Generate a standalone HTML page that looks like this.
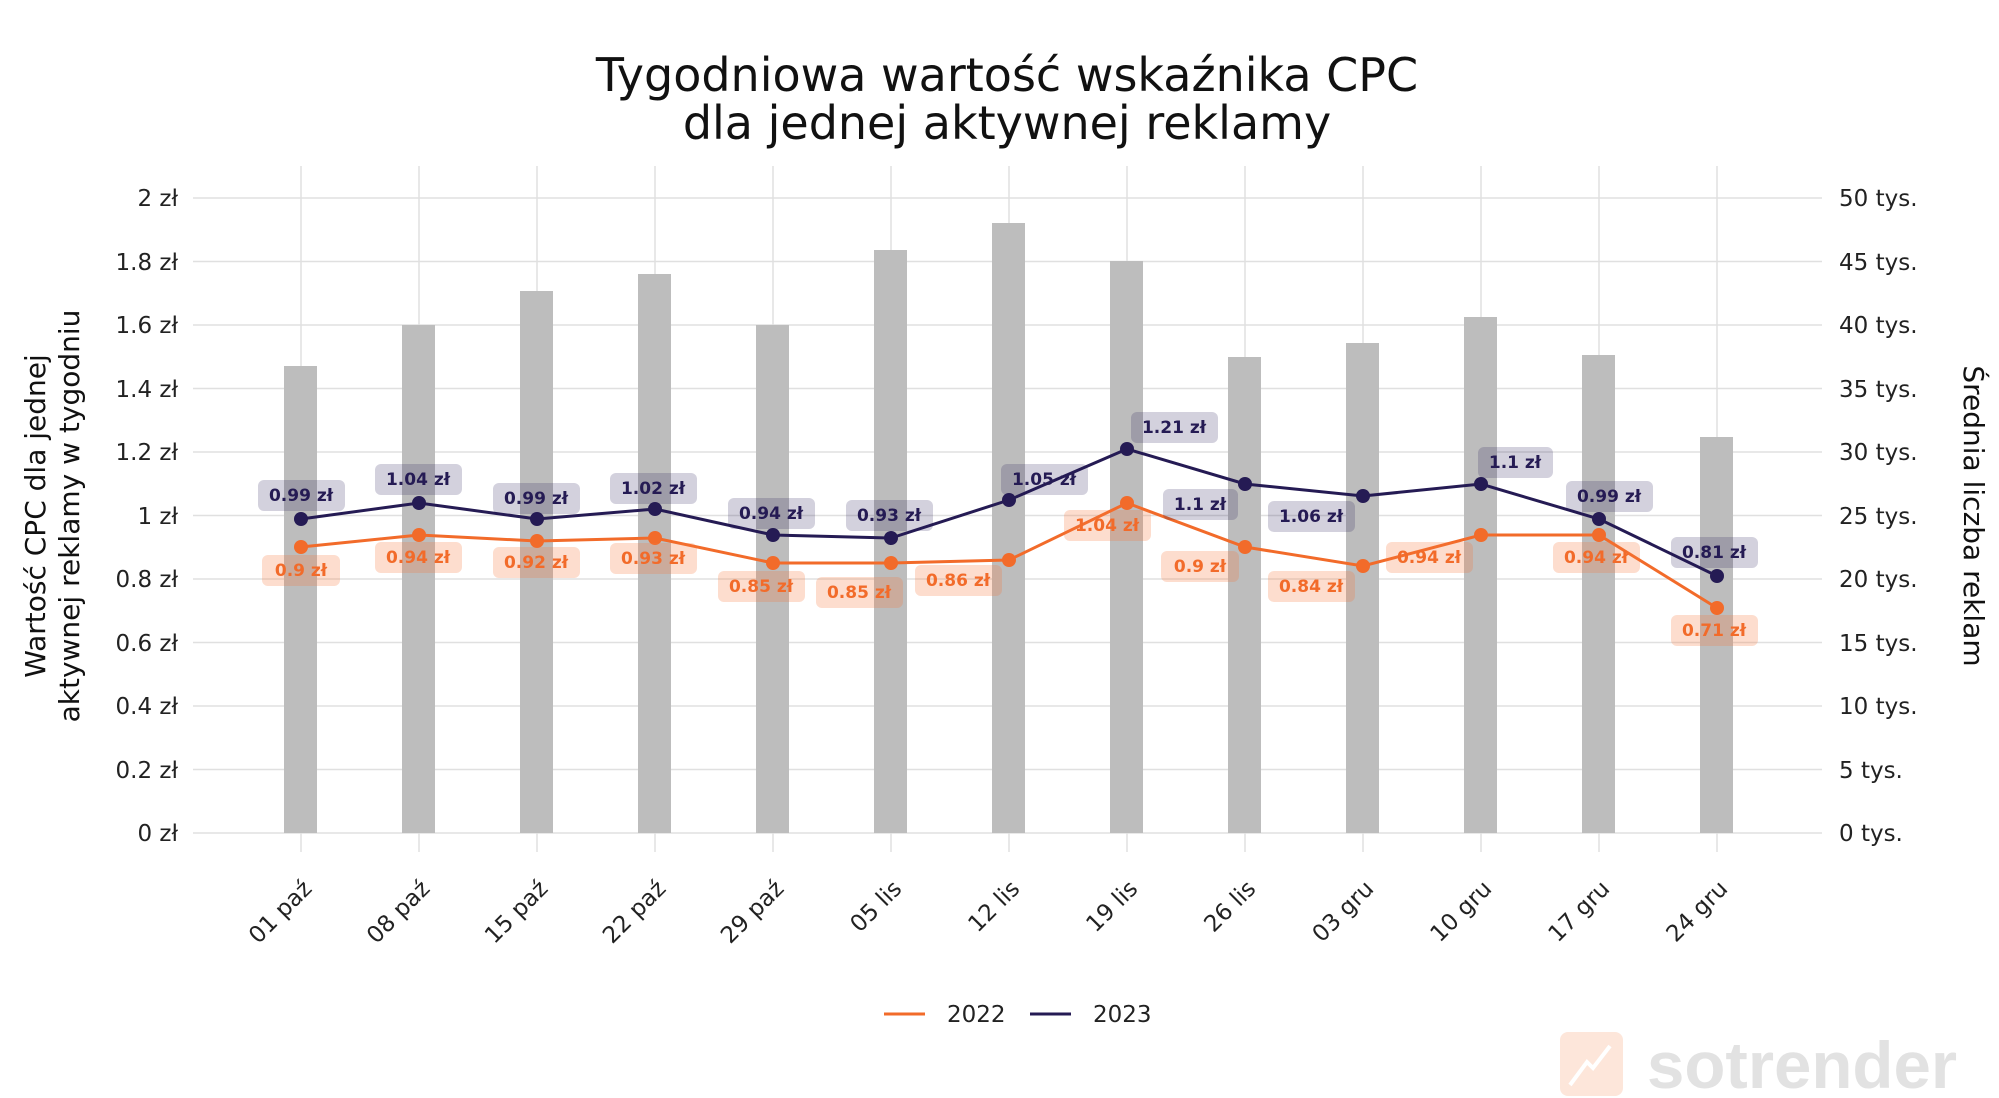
<!DOCTYPE html>
<html><head><meta charset="utf-8"><style>
html,body{margin:0;padding:0;background:#fff;}
svg{display:block;}
text{font-family:"DejaVu Sans","Liberation Sans",sans-serif;}
.tk{font-size:23px;fill:#222;}
.lb{font-size:17px;font-weight:bold;text-anchor:middle;}
</style></head><body>
<svg width="1999" height="1098" viewBox="0 0 1999 1098" xmlns="http://www.w3.org/2000/svg">
<text x="1007" y="91" font-size="46" text-anchor="middle" fill="#111">Tygodniowa wartość wskaźnika CPC</text>
<text x="1007" y="139" font-size="46" text-anchor="middle" fill="#111">dla jednej aktywnej reklamy</text>
<g stroke="#e0e0e0" stroke-width="1.5">
<line x1="193" x2="1822" y1="198" y2="198"/><line x1="193" x2="1822" y1="261.5" y2="261.5"/><line x1="193" x2="1822" y1="325" y2="325"/><line x1="193" x2="1822" y1="388.5" y2="388.5"/><line x1="193" x2="1822" y1="452" y2="452"/><line x1="193" x2="1822" y1="515.5" y2="515.5"/><line x1="193" x2="1822" y1="579" y2="579"/><line x1="193" x2="1822" y1="642.5" y2="642.5"/><line x1="193" x2="1822" y1="706" y2="706"/><line x1="193" x2="1822" y1="769.5" y2="769.5"/><line x1="193" x2="1822" y1="833" y2="833"/>
<line x1="301" x2="301" y1="166" y2="852"/><line x1="419" x2="419" y1="166" y2="852"/><line x1="537" x2="537" y1="166" y2="852"/><line x1="655" x2="655" y1="166" y2="852"/><line x1="773" x2="773" y1="166" y2="852"/><line x1="891" x2="891" y1="166" y2="852"/><line x1="1009" x2="1009" y1="166" y2="852"/><line x1="1127" x2="1127" y1="166" y2="852"/><line x1="1245" x2="1245" y1="166" y2="852"/><line x1="1363" x2="1363" y1="166" y2="852"/><line x1="1481" x2="1481" y1="166" y2="852"/><line x1="1599" x2="1599" y1="166" y2="852"/><line x1="1717" x2="1717" y1="166" y2="852"/>
</g>
<g fill="#bdbdbd">
<rect x="284" y="366" width="33" height="467"/><rect x="402" y="325" width="33" height="508"/><rect x="520" y="291" width="33" height="542"/><rect x="638" y="274" width="33" height="559"/><rect x="756" y="325" width="33" height="508"/><rect x="874" y="250" width="33" height="583"/><rect x="992" y="223" width="33" height="610"/><rect x="1110" y="261" width="33" height="572"/><rect x="1228" y="357" width="33" height="476"/><rect x="1346" y="343" width="33" height="490"/><rect x="1464" y="317" width="33" height="516"/><rect x="1582" y="355" width="33" height="478"/><rect x="1700" y="437" width="33" height="396"/>
</g>
<g class="tk" text-anchor="end">
<text x="178" y="206">2 zł</text><text x="178" y="270">1.8 zł</text><text x="178" y="333">1.6 zł</text><text x="178" y="397">1.4 zł</text><text x="178" y="460">1.2 zł</text><text x="178" y="524">1 zł</text><text x="178" y="587">0.8 zł</text><text x="178" y="651">0.6 zł</text><text x="178" y="714">0.4 zł</text><text x="178" y="778">0.2 zł</text><text x="178" y="841">0 zł</text>
</g>
<g class="tk">
<text x="1839" y="206">50 tys.</text><text x="1839" y="270">45 tys.</text><text x="1839" y="333">40 tys.</text><text x="1839" y="397">35 tys.</text><text x="1839" y="460">30 tys.</text><text x="1839" y="524">25 tys.</text><text x="1839" y="587">20 tys.</text><text x="1839" y="651">15 tys.</text><text x="1839" y="714">10 tys.</text><text x="1839" y="778">5 tys.</text><text x="1839" y="841">0 tys.</text>
</g>
<text transform="translate(45,516) rotate(-90)" font-size="28" text-anchor="middle" fill="#111">Wartość CPC dla jednej</text>
<text transform="translate(79,516) rotate(-90)" font-size="28" text-anchor="middle" fill="#111">aktywnej reklamy w tygodniu</text>
<text transform="translate(1964,516) rotate(90)" font-size="28" text-anchor="middle" fill="#111">Średnia liczba reklam</text>
<g class="tk" text-anchor="end">
<text transform="translate(313,890) rotate(-45)">01 paź</text><text transform="translate(431,890) rotate(-45)">08 paź</text><text transform="translate(549,890) rotate(-45)">15 paź</text><text transform="translate(667,890) rotate(-45)">22 paź</text><text transform="translate(785,890) rotate(-45)">29 paź</text><text transform="translate(903,890) rotate(-45)">05 lis</text><text transform="translate(1021,890) rotate(-45)">12 lis</text><text transform="translate(1139,890) rotate(-45)">19 lis</text><text transform="translate(1257,890) rotate(-45)">26 lis</text><text transform="translate(1375,890) rotate(-45)">03 gru</text><text transform="translate(1493,890) rotate(-45)">10 gru</text><text transform="translate(1611,890) rotate(-45)">17 gru</text><text transform="translate(1729,890) rotate(-45)">24 gru</text>
</g>
<polyline fill="none" stroke="#f26b2a" stroke-width="3" points="301,547 419,535 537,541 655,538 773,563 891,563 1009,560 1127,503 1245,547 1363,566 1481,535 1599,535 1717,608"/>
<polyline fill="none" stroke="#251b54" stroke-width="3" points="301,519 419,503 537,519 655,509 773,535 891,538 1009,500 1127,449 1245,484 1363,496 1481,484 1599,519 1717,576"/>
<g fill="#f26b2a">
<circle cx="301" cy="547" r="7"/><circle cx="419" cy="535" r="7"/><circle cx="537" cy="541" r="7"/><circle cx="655" cy="538" r="7"/><circle cx="773" cy="563" r="7"/><circle cx="891" cy="563" r="7"/><circle cx="1009" cy="560" r="7"/><circle cx="1127" cy="503" r="7"/><circle cx="1245" cy="547" r="7"/><circle cx="1363" cy="566" r="7"/><circle cx="1481" cy="535" r="7"/><circle cx="1599" cy="535" r="7"/><circle cx="1717" cy="608" r="7"/>
</g>
<g fill="#251b54">
<circle cx="301" cy="519" r="7"/><circle cx="419" cy="503" r="7"/><circle cx="537" cy="519" r="7"/><circle cx="655" cy="509" r="7"/><circle cx="773" cy="535" r="7"/><circle cx="891" cy="538" r="7"/><circle cx="1009" cy="500" r="7"/><circle cx="1127" cy="449" r="7"/><circle cx="1245" cy="484" r="7"/><circle cx="1363" cy="496" r="7"/><circle cx="1481" cy="484" r="7"/><circle cx="1599" cy="519" r="7"/><circle cx="1717" cy="576" r="7"/>
</g>
<g fill="rgba(37,27,84,0.2)">
<rect x="258" y="480" width="87" height="31" rx="6"/><rect x="375" y="464" width="87" height="31" rx="6"/><rect x="493" y="483" width="87" height="31" rx="6"/><rect x="610" y="473" width="87" height="31" rx="6"/><rect x="728" y="498" width="87" height="31" rx="6"/><rect x="846" y="500" width="87" height="31" rx="6"/><rect x="1001" y="464" width="87" height="31" rx="6"/><rect x="1131" y="412" width="87" height="31" rx="6"/><rect x="1163" y="489" width="75" height="31" rx="6"/><rect x="1268" y="501" width="87" height="31" rx="6"/><rect x="1478" y="447" width="75" height="31" rx="6"/><rect x="1566" y="481" width="87" height="31" rx="6"/><rect x="1671" y="537" width="87" height="31" rx="6"/>
</g>
<g fill="rgba(248,120,60,0.25)">
<rect x="262" y="555" width="78" height="31" rx="6"/><rect x="375" y="542" width="87" height="31" rx="6"/><rect x="493" y="547" width="87" height="31" rx="6"/><rect x="610" y="543" width="87" height="31" rx="6"/><rect x="718" y="571" width="87" height="31" rx="6"/><rect x="816" y="577" width="87" height="31" rx="6"/><rect x="915" y="565" width="87" height="31" rx="6"/><rect x="1064" y="510" width="87" height="31" rx="6"/><rect x="1161" y="551" width="78" height="31" rx="6"/><rect x="1268" y="571" width="87" height="31" rx="6"/><rect x="1386" y="542" width="87" height="31" rx="6"/><rect x="1553" y="542" width="87" height="31" rx="6"/><rect x="1671" y="615" width="87" height="31" rx="6"/>
</g>
<g class="lb" fill="#251b54">
<text x="301" y="501">0.99 zł</text><text x="418" y="485">1.04 zł</text><text x="536" y="504">0.99 zł</text><text x="653" y="494">1.02 zł</text><text x="771" y="519">0.94 zł</text><text x="889" y="521">0.93 zł</text><text x="1044" y="485">1.05 zł</text><text x="1174" y="433">1.21 zł</text><text x="1200" y="510">1.1 zł</text><text x="1311" y="522">1.06 zł</text><text x="1515" y="468">1.1 zł</text><text x="1609" y="502">0.99 zł</text><text x="1714" y="558">0.81 zł</text>
</g>
<g class="lb" fill="#f26b2a">
<text x="301" y="576">0.9 zł</text><text x="418" y="563">0.94 zł</text><text x="536" y="568">0.92 zł</text><text x="653" y="564">0.93 zł</text><text x="761" y="592">0.85 zł</text><text x="859" y="598">0.85 zł</text><text x="958" y="586">0.86 zł</text><text x="1107" y="531">1.04 zł</text><text x="1200" y="572">0.9 zł</text><text x="1311" y="592">0.84 zł</text><text x="1429" y="563">0.94 zł</text><text x="1596" y="563">0.94 zł</text><text x="1714" y="636">0.71 zł</text>
</g>
<line x1="884" x2="925" y1="1014" y2="1014" stroke="#f26b2a" stroke-width="3"/>
<text x="947" y="1022" class="tk">2022</text>
<line x1="1030" x2="1071" y1="1014" y2="1014" stroke="#251b54" stroke-width="3"/>
<text x="1093" y="1022" class="tk">2023</text>
<rect x="1560" y="1032" width="63" height="64" rx="8" fill="#fde6da"/>
<polyline points="1570,1085 1587,1062 1593,1068 1610,1046" fill="none" stroke="#fff" stroke-width="4"/>
<text x="1647" y="1088" font-size="66" font-weight="bold" fill="#e2e2e2" textLength="310" lengthAdjust="spacingAndGlyphs" style="font-family:'Liberation Sans',sans-serif">sotrender</text>
</svg>
</body></html>
